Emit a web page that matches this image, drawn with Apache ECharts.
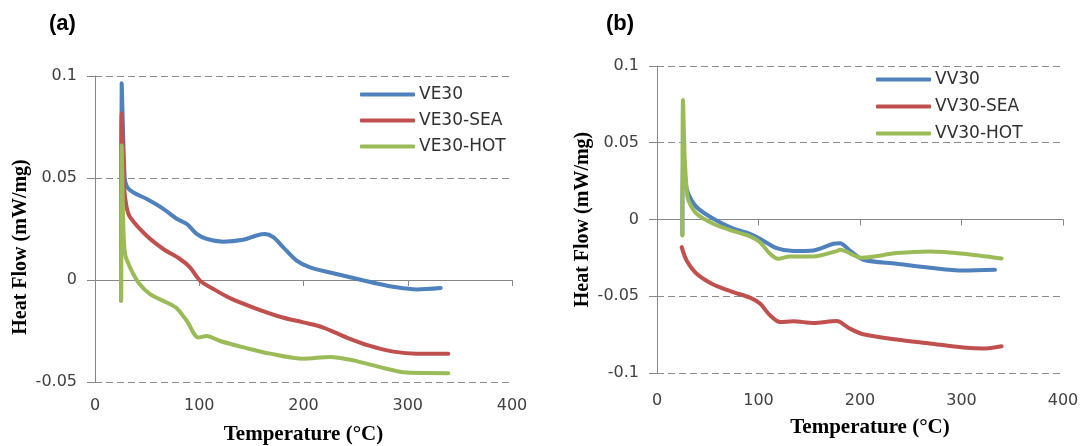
<!DOCTYPE html>
<html>
<head>
    <meta charset="utf-8">
    <title>Heat Flow</title>
    <script src="https://cdn.jsdelivr.net/npm/echarts@6/dist/echarts.min.js"></script>
    <style>
        html, body { margin: 0; padding: 0; background: #fff; }
        #chart1 { width: 1086px; height: 446px; }
    </style>
</head>
<body>
<div id="chart1"></div>
<script>
    // x ticks (Temperature, °C)
    var xTicks = [0, 100, 200, 300, 400];

    // (a) VE30 samples: [temperature, heat flow]
    var ve30 = [[25, -0.01], [25.6, 0.0964], [28.5, 0.05], [31, 0.0455], [36.5, 0.043], [49.3, 0.0398],
        [65.5, 0.0349], [78.4, 0.030], [88, 0.0275], [97.5, 0.0226], [106.9, 0.0202], [123, 0.0188],
        [142, 0.0197], [155, 0.0218], [163, 0.0225], [171, 0.021], [180.6, 0.016], [193.4, 0.0095],
        [206.2, 0.0062], [225.4, 0.0037], [247.8, 0.001], [270.2, -0.0017], [289.4, -0.0036],
        [308.6, -0.0046], [331.6, -0.0039]];
    var ve30Sea = [[25, -0.01], [25.6, 0.0817], [28, 0.045], [30.3, 0.0357], [33.6, 0.0308], [49.3, 0.0218],
        [65.5, 0.0152], [81.5, 0.0103], [91.1, 0.0062], [100.7, -0.0003], [113.5, -0.0044], [129.5, -0.0089],
        [151.9, -0.0135], [177.5, -0.018], [199.8, -0.0208], [219, -0.0233], [241.4, -0.0282],
        [263.8, -0.0323], [286.2, -0.0351], [308.6, -0.0361], [338.9, -0.0361]];
    var ve30Hot = [[25, -0.0102], [25.6, 0.066], [27, 0.03], [28.8, 0.0128], [33.6, 0.0062], [41.6, -0.0012],
        [52.8, -0.0069], [68.8, -0.011], [78.4, -0.0138], [88, -0.02], [99.2, -0.0282], [107, -0.0274],
        [119.9, -0.0299], [145.4, -0.0334], [168, -0.0361], [199.8, -0.0386], [225.4, -0.0377],
        [247.8, -0.0394], [273.4, -0.0427], [299, -0.0454], [338.9, -0.0457]];

    // (b) VV30 samples
    var vv30 = [[25, -0.01], [25.6, 0.05], [28, 0.025], [30.9, 0.0167], [39.1, 0.008], [55.5, 0.0005],
        [75.2, -0.006], [91.6, -0.0093], [101.5, -0.0126], [117.9, -0.0187], [134.3, -0.0206], [154, -0.0202],
        [173.7, -0.0158], [180.3, -0.0154], [190.1, -0.0202], [203.3, -0.0262], [236.1, -0.0288],
        [269, -0.0314], [301.8, -0.0332], [333, -0.0327]];
    var vv30Sea = [[24.3, -0.018], [29.2, -0.0267], [39.1, -0.0353], [55.5, -0.0423], [75.2, -0.0473],
        [91.6, -0.0509], [101.5, -0.0548], [111.3, -0.0624], [121.2, -0.0668], [134.3, -0.0663],
        [154, -0.0674], [177, -0.0661], [180.3, -0.0668], [190.1, -0.0711], [203.3, -0.0748],
        [236.1, -0.0782], [269, -0.0808], [301.8, -0.0834], [321.5, -0.0841], [339.5, -0.0826]];
    var vv30Hot = [[25, -0.0104], [25.6, 0.0778], [27.3, 0.04], [29.3, 0.0189], [30.9, 0.0124], [39.1, 0.0037],
        [55.5, -0.0028], [75.2, -0.0076], [91.6, -0.011], [101.5, -0.0148], [111.3, -0.0223], [119.5, -0.0256],
        [131, -0.0241], [154, -0.0241], [177, -0.0206], [180.3, -0.0197], [201.7, -0.0249], [236.1, -0.0219],
        [269, -0.0208], [301.8, -0.0223], [339.5, -0.0254]];

    var colors = ['#4F81BD', '#C0504D', '#9BBB59'];

    var tickFont = {color: '#404040', fontFamily: 'DejaVu Sans', fontSize: 16};
    var titleFont = {color: '#000', fontFamily: 'Liberation Serif', fontWeight: 'bold'};

    function xAxisOf(idx, labelMargin, gap, padLeft) {
        return {
            type: 'value', gridIndex: idx, min: xTicks[0], max: xTicks[xTicks.length - 1], interval: 100,
            name: 'Temperature (°C)', nameLocation: 'middle', nameGap: gap,
            nameTextStyle: Object.assign({fontSize: 21, padding: [0, 0, 0, padLeft]}, titleFont),
            axisLine: {lineStyle: {color: '#868686', width: 1}},
            axisTick: {show: true, length: 6, lineStyle: {color: '#868686'}},
            axisLabel: Object.assign({margin: labelMargin}, tickFont),
            splitLine: {show: false}
        };
    }

    function yAxisOf(idx, min, padRight) {
        return {
            type: 'value', gridIndex: idx, min: min, max: 0.1, interval: 0.05,
            name: 'Heat Flow (mW/mg)', nameLocation: 'middle', nameGap: 64, nameRotate: 90,
            nameTextStyle: Object.assign({fontSize: 20, padding: [0, padRight, 0, 0]}, titleFont),
            axisLine: {show: true, lineStyle: {color: '#868686', width: 1}},
            axisTick: {show: true, length: 8, lineStyle: {color: '#868686'}},
            axisLabel: Object.assign({margin: 18}, tickFont),
            splitLine: {show: true, lineStyle: {color: '#8a8a8a', type: [7, 4], width: 1}}
        };
    }

    function lineOf(name, data, idx, color, z) {
        return {
            name: name, type: 'line', data: data, xAxisIndex: idx, yAxisIndex: idx,
            symbol: 'none', showSymbol: false, smooth: 0.3, z: z,
            lineStyle: {color: color, width: 4, cap: 'round', join: 'round'},
            itemStyle: {color: color}
        };
    }

    function legendOf(names, left, top, gap) {
        return {
            data: names, orient: 'vertical', left: left, top: top, itemGap: gap,
            icon: 'roundRect', itemWidth: 55, itemHeight: 4, padding: 0,
            textStyle: {color: '#303030', fontFamily: 'DejaVu Sans', fontSize: 17, lineHeight: 17, padding: [0, 0, 0, -1]}
        };
    }

    var myChart1 = echarts.init(document.getElementById('chart1'), null, {renderer: 'canvas'});
    myChart1.setOption({
        animation: false,
        backgroundColor: '#fff',
        title: [
            {text: '(a)', left: 49, top: 13, padding: 0,
                textStyle: {fontFamily: 'Liberation Sans', fontWeight: 'bold', fontSize: 22, color: '#000'}},
            {text: '(b)', left: 606, top: 13, padding: 0,
                textStyle: {fontFamily: 'Liberation Sans', fontWeight: 'bold', fontSize: 22, color: '#000'}}
        ],
        legend: [
            legendOf(['VE30', 'VE30-SEA', 'VE30-HOT'], 360, 86, 9),
            legendOf(['VV30', 'VV30-SEA', 'VV30-HOT'], 876, 71, 10)
        ],
        grid: [
            {left: 95, top: 76, right: 574, bottom: 64, containLabel: false, outerBoundsMode: 'none'},
            {left: 657, top: 66, right: 23, bottom: 73, containLabel: false, outerBoundsMode: 'none'}
        ],
        xAxis: [xAxisOf(0, 16, 42, 0), xAxisOf(1, 20, 44, 20)],
        yAxis: [yAxisOf(0, -0.05, 36), yAxisOf(1, -0.1, 0)],
        series: [
            lineOf('VE30', ve30, 0, colors[0], 2),
            lineOf('VE30-SEA', ve30Sea, 0, colors[1], 3),
            lineOf('VE30-HOT', ve30Hot, 0, colors[2], 4),
            lineOf('VV30', vv30, 1, colors[0], 2),
            lineOf('VV30-SEA', vv30Sea, 1, colors[1], 3),
            lineOf('VV30-HOT', vv30Hot, 1, colors[2], 4)
        ]
    });
</script>
</body>
</html>
